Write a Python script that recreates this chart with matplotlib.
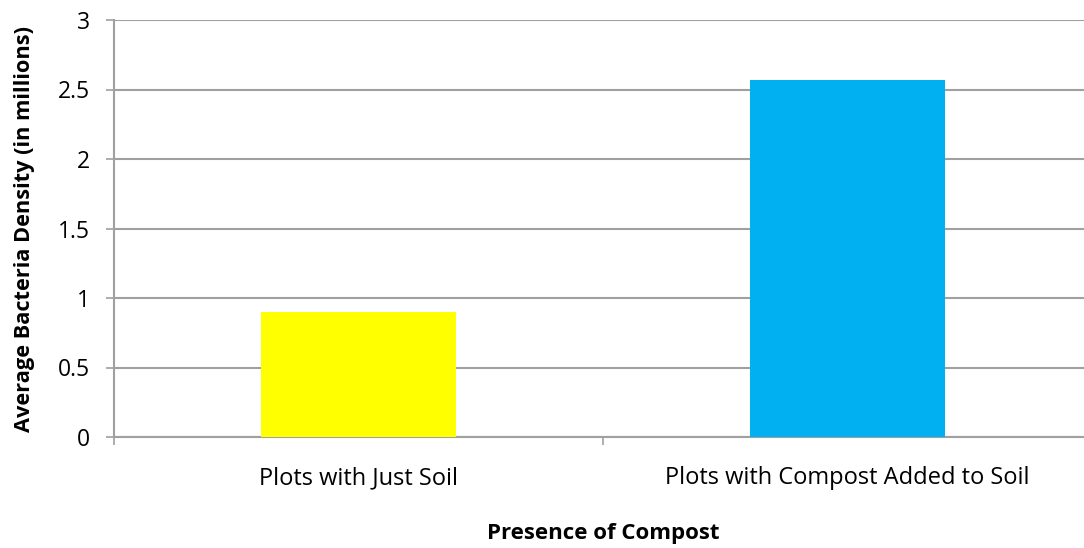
import matplotlib
matplotlib.use("Agg")
import matplotlib.pyplot as plt
from matplotlib.ticker import FixedLocator

categories = ["Plots with Just Soil", "Plots with Compost Added to Soil"]
values = [0.9, 2.57]
colors = ["#FFFF00", "#00B0F0"]
y_ticks = [0, 0.5, 1, 1.5, 2, 2.5, 3]
y_tick_labels = ["0", "0.5", "1", "1.5", "2", "2.5", "3"]

plt.rcParams["font.family"] = ["Open Sans", "DejaVu Sans"]

W, H = 1084, 548
fig = plt.figure(figsize=(W / 100, H / 100), dpi=100)
left, right, bottom, top = 114, 1092, 437, 20
ax = fig.add_axes([left / W, 1 - bottom / H, (right - left) / W, (bottom - top) / H])

x = list(range(len(categories)))
ax.bar(x, values, width=0.4, color=colors, zorder=3)

grid_color = "#A0A0A0"
ax.set_ylim(0, 3)
ax.set_xlim(-0.5, len(categories) - 0.5)
ax.set_yticks(y_ticks)
ax.set_yticklabels(y_tick_labels, fontsize=16.5)
ax.yaxis.grid(True, color=grid_color, linewidth=1.5, zorder=0)

ax.set_xticks(x)
ax.set_xticklabels(categories, fontsize=17)
ax.tick_params(axis="x", which="major", length=0, pad=21)
ax.xaxis.set_minor_locator(FixedLocator([-0.5, 0.5, 1.5]))
ax.tick_params(axis="x", which="minor", length=6, width=1.2, color=grid_color)
ax.tick_params(axis="y", length=6, width=1.2, color=grid_color, pad=11)

for s in ["top", "right"]:
    ax.spines[s].set_visible(False)
for s in ["left", "bottom"]:
    ax.spines[s].set_color(grid_color)
    ax.spines[s].set_linewidth(1.5)

ax.set_ylabel("Average Bacteria Density (in millions)", fontsize=15.7, fontweight="bold")
ax.set_xlabel("Presence of Compost", fontsize=16, fontweight="bold")
ax.yaxis.set_label_coords((35 - left) / (right - left), 0.5)
ax.xaxis.set_label_coords(0.5, -(523 - bottom) / (bottom - top))

fig.savefig("out.png", dpi=100)
